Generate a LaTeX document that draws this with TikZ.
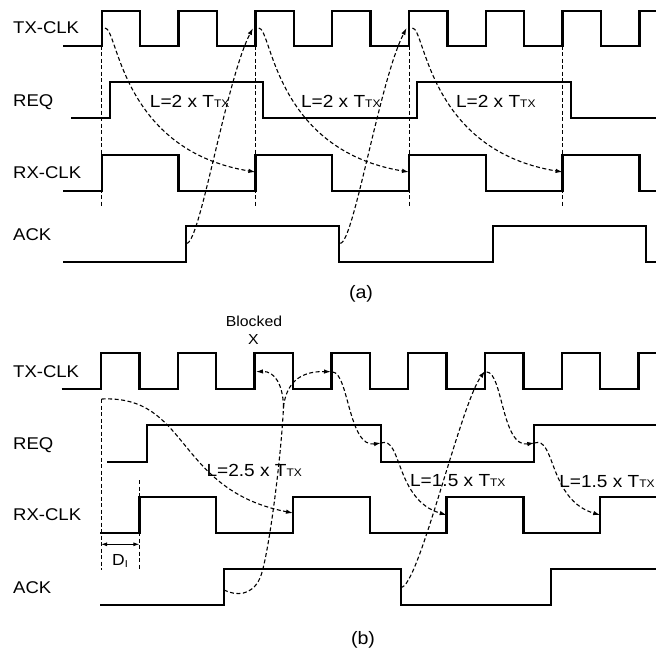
\documentclass[tikz,border=0pt]{standalone}
\usepackage{fontspec}
\setmainfont{Liberation Sans}[FakeStretch=1.09]
\usepackage{tikz}
\usetikzlibrary{arrows.meta}
\newcommand{\ttx}{{\fontsize{11}{11}\selectfont TX}}
\tikzset{
  wave/.style={line width=2.3pt, draw=black},
  guide/.style={line width=1pt, dash pattern=on 4pt off 2.5pt, draw=black},
  flow/.style={line width=1.1pt, dash pattern=on 4pt off 2.5pt, draw=black,
    -{Latex[length=7pt,width=4.5pt]}},
  flowline/.style={line width=1.1pt, dash pattern=on 4pt off 2.5pt, draw=black},
  sig/.style={anchor=base west, inner sep=0pt, font=\fontsize{17}{20}\selectfont},
  lbl/.style={anchor=base, inner sep=0pt, font=\fontsize{17.5}{21}\selectfont},
  note/.style={anchor=base, inner sep=0pt, font=\fontsize{14.5}{17}\selectfont},
  capt/.style={anchor=base, inner sep=0pt, font=\fontsize{18}{21}\selectfont},
}

\begin{document}
\begin{tikzpicture}[x=1pt,y=-1pt]
  \useasboundingbox (0,0) rectangle (656,653);

  % (a) signal names
  \node[sig] (tx-a) at (13,34) {TX-CLK};
  \node[sig] (req-a) at (13,106) {REQ};
  \node[sig] (rx-a) at (13,178) {RX-CLK};
  \node[sig] (ack-a) at (13,240.7) {ACK};

  % (a) waveforms
  \draw[wave] (63,45.7) -| (101.8,10.7) -| (140.2,45.7) -| (178.6,10.7) -| (217,45.7)
    -| (255.4,10.7) -| (293.8,45.7) -| (332.2,10.7) -| (370.6,45.7) -| (409,10.7)
    -| (447.4,45.7) -| (485.8,10.7) -| (524.2,45.7) -| (562.6,10.7) -| (601,45.7)
    -| (639.4,10.7) -- (656,10.7);
  \draw[wave] (71,117.7) -| (110,82.3) -| (263.3,117.7) -| (416.7,82.3) -| (570.7,117.7)
    -- (656,117.7);
  \draw[wave] (63,190.7) -| (101.8,154.7) -| (178.6,190.7) -| (255.4,154.7) -| (332.2,190.7)
    -| (409,154.7) -| (485.8,190.7) -| (562.6,154.7) -| (639.4,190.7) -- (656,190.7);
  \draw[wave] (63,262.3) -| (185.7,225.7) -| (339,262.3) -| (492.7,225.7) -| (646,262.3)
    -- (656,262.3);

  % (a) sampling guides
  \draw[guide] (101.8,45.7) -- (101.8,208);
  \draw[guide] (255.4,45.7) -- (255.4,208);
  \draw[guide] (409,45.7) -- (409,208);
  \draw[guide] (562.6,45.7) -- (562.6,208);

  % (a) handshake paths
  \coordinate (a-tx1) at (105,28);
  \coordinate (a-rx1) at (255.4,172);
  \coordinate (a-tx2) at (258.8,28);
  \coordinate (a-rx2) at (409,172);
  \coordinate (a-tx3) at (412.4,28);
  \coordinate (a-rx3) at (562.6,172);
  \coordinate (a-ack1) at (186.7,243.3);
  \coordinate (a-up1) at (253,28);
  \coordinate (a-ack2) at (340.3,243.3);
  \coordinate (a-up2) at (406.6,28);
  \draw[flow] (a-tx1) .. controls +(13,0) and +(-135,-22) .. (a-rx1);
  \draw[flow] (a-tx2) .. controls +(13,0) and +(-135,-22) .. (a-rx2);
  \draw[flow] (a-tx3) .. controls +(13,0) and +(-135,-22) .. (a-rx3);
  \draw[flow] (a-ack1) .. controls +(13.3,0) and +(-27,52) .. (a-up1);
  \draw[flow] (a-ack2) .. controls +(13.3,0) and +(-27,52) .. (a-up2);

  \node[lbl] (len-a1) at (189.7,107.5) {L=2 x T\ttx};
  \node[lbl] (len-a2) at (340.8,107.5) {L=2 x T\ttx};
  \node[lbl] (len-a3) at (495.8,107.5) {L=2 x T\ttx};
  \node[capt] (cap-a) at (361,298) {(a)};

  % (b) signal names
  \node[sig] (tx-b) at (13,377.7) {TX-CLK};
  \node[sig] (req-b) at (13,449.3) {REQ};
  \node[sig] (rx-b) at (13,520.7) {RX-CLK};
  \node[sig] (ack-b) at (13,593.3) {ACK};

  % (b) waveforms
  \draw[wave] (61.7,389.3) -| (101,352.7) -| (139.4,389.3) -| (177.8,352.7) -| (216.2,389.3)
    -| (254.6,352.7) -| (293,389.3) -| (331.4,352.7) -| (369.8,389.3) -| (408.2,352.7)
    -| (446.6,389.3) -| (485,352.7) -| (523.4,389.3) -| (561.8,352.7) -| (600.2,389.3)
    -| (638.6,352.7) -- (656,352.7);
  \draw[wave] (107.3,461.7) -| (146.7,425) -| (381,461.7) -| (534.3,425) -- (656,425);
  \draw[wave] (100,533.3) -| (139.4,497.3) -| (216.2,533.3) -| (293,497.3) -| (369.8,533.3)
    -| (446.6,497.3) -| (523.4,533.3) -| (600.2,497.3) -- (656,497.3);
  \draw[wave] (100,605) -| (224,569.3) -| (400.7,605) -| (550.7,569.3) -- (656,569.3);

  % (b) initial delay
  \draw[guide] (101,399) -- (101,570);
  \draw[guide] (139.4,480) -- (139.4,570);
  \draw[line width=1pt, {Latex[length=6pt,width=4pt]}-{Latex[length=6pt,width=4pt]}]
    (101,544.3) -- (139.4,544.3);
  \node[anchor=base, inner sep=0pt, font=\fontsize{16}{19}\selectfont] (dly) at (120,565.7)
    {D\raisebox{-2pt}{\fontsize{10}{10}\selectfont I}};

  % (b) handshake paths
  \coordinate (b-tx0) at (101.7,399);
  \coordinate (b-rx1) at (293,513);
  \coordinate (b-ack1) at (224,590);
  \coordinate (b-fork) at (283.5,407);
  \coordinate (b-blk) at (256,371.7);
  \coordinate (b-tx2) at (331,371.7);
  \coordinate (b-tx2s) at (332.5,372);
  \coordinate (b-req1) at (381,443);
  \coordinate (b-rx2) at (446.6,515);
  \coordinate (b-ack2) at (400.7,587.3);
  \coordinate (b-tx3) at (485,371);
  \coordinate (b-tx3s) at (486.7,372);
  \coordinate (b-req2) at (534.3,443);
  \coordinate (b-rx3) at (600.2,515);
  \draw[flow] (b-tx0) .. controls +(88,-4) and +(-118,-23) .. (b-rx1);
  \draw[flowline] (b-ack1) .. controls (236,596) and (252,596) .. (260,578)
    .. controls (268,560) and (281,460) .. (b-fork);
  \draw[flow] (b-fork) .. controls +(-0.5,-22) and +(19,-0.7) .. (b-blk);
  \draw[flow] (b-fork) .. controls +(2.5,-22) and +(-33,-0.7) .. (b-tx2);
  \draw[flow] (b-tx2s) .. controls +(16,0) and +(-32.5,5) .. (b-req1);
  \draw[flow] (b-req1) .. controls +(21,-7.5) and +(-51.6,-15) .. (b-rx2);
  \draw[flow] (b-ack2) .. controls +(17.3,2.7) and +(-25,34) .. (b-tx3);
  \draw[flow] (b-tx3s) .. controls +(16,0) and +(-32.5,5) .. (b-req2);
  \draw[flow] (b-req2) .. controls +(21,-7.5) and +(-51.6,-15) .. (b-rx3);

  \node[note] (blk) at (254,326.7) {Blocked};
  \node[note] (blk-x) at (253.3,344.3) {X};
  \node[lbl] (len-b1) at (254.2,476.7) {L=2.5 x T\ttx};
  \node[lbl] (len-b2) at (457.8,486.7) {L=1.5 x T\ttx};
  \node[lbl] (len-b3) at (607,487.3) {L=1.5 x T\ttx};
  \node[capt] (cap-b) at (363,644) {(b)};
\end{tikzpicture}
\end{document}
